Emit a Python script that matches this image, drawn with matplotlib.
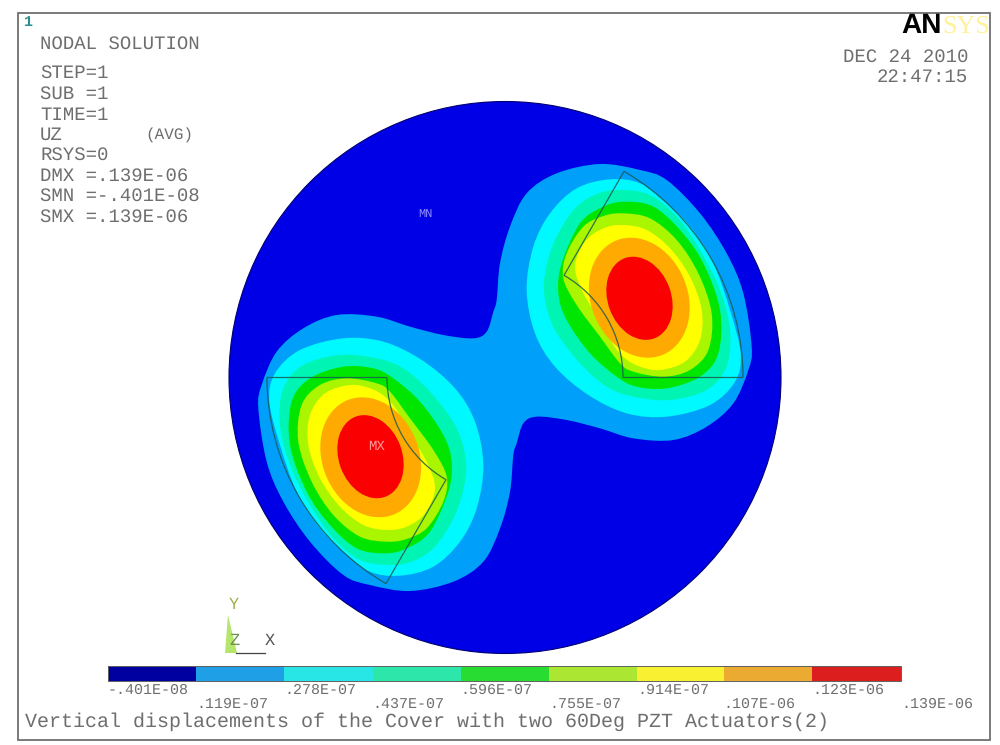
import numpy as np
import matplotlib
matplotlib.use("Agg")
import matplotlib.pyplot as plt
from matplotlib.path import Path
from matplotlib.patches import PathPatch, Circle, Wedge, Rectangle, Polygon, Ellipse
from matplotlib.colors import ListedColormap, BoundaryNorm

plt.rcParams["text.hinting"] = "none"
plt.rcParams["text.hinting_factor"] = 1

# ---- legend data
levels = [-0.401e-8, 0.119e-7, 0.278e-7, 0.437e-7, 0.596e-7, 0.755e-7, 0.914e-7, 0.107e-6, 0.123e-6, 0.139e-6]
level_labels = ["-.401E-08", ".119E-07", ".278E-07", ".437E-07", ".596E-07",
                ".755E-07", ".914E-07", ".107E-06", ".123E-06", ".139E-06"]
field_colors = ["#0000e6", "#00a0fa", "#00f8ff", "#00f5b4", "#00e600",
                "#aaf500", "#ffff00", "#ffaa00", "#fa0000"]
legend_colors = ["#0000a0", "#1e9fe6", "#28e6e6", "#2de6aa", "#28dc32",
                 "#aae632", "#faf032", "#ebaa32", "#dc1e1e"]

# ---- contour outlines of the upper right lobe, read in a 3x crop with origin (500,150).
# The lower left lobe is the same field turned by 180 degrees about the cover centre.
crop_origin = (500, 150)
neck_and_lobe = [(-10,450),(0,340),(30,230),(80,130),(170,70),(300,42),(420,60),(500,90),(600,190),(680,310),
                 (730,430),(755,590),(745,660),(700,760),(620,830),(520,870),(400,865),(300,835),(200,810),
                 (110,800),(70,820),(50,880)]
lobe_cyan = [(330,88),(420,100),(500,160),(570,230),(640,340),(690,480),(722,610),(705,695),(630,765),(500,800),
             (380,790),(265,735),(165,650),(105,550),(80,420),(100,290),(150,190),(230,115)]
lobe_teal = [(365,120),(450,135),(530,200),(600,300),(660,420),(690,540),(680,650),(620,720),(510,750),(400,740),
             (320,710),(240,640),(165,540),(135,450),(135,370),(165,270),(225,175),(295,130)]
lobe_green = [(375,155),(460,170),(540,240),(610,340),(660,480),(655,610),(600,680),(500,715),(410,710),
              (350,680),(270,610),(200,510),(175,430),(185,340),(240,220),(310,170)]
lobe_lime = [(370,190),(450,205),(530,270),(595,370),(635,490),(625,600),(570,660),(490,680),(400,665),
             (360,640),(300,560),(230,465),(190,385),(200,310),(250,230),(310,198)]
lobe_yellow = [(370,225),(440,240),(510,295),(570,380),(605,480),(600,570),(555,635),(480,660),(420,650),
               (375,625),(340,585),(300,510),(250,430),(225,350),(255,275),(310,235)]
lobe_bands = [lobe_cyan, lobe_teal, lobe_green, lobe_lime, lobe_yellow]

# innermost bands are ellipses: centre x, centre y, semi major, semi minor, tilt (image pixels)
orange_ellipse = (639.3, 297.7, 61.7, 48.3, 68)
red_ellipse = (639.5, 298.3, 42.7, 31.7, 70)

# ---- geometry of the cover and the two actuators
cover_center = (505, 377.5)
cover_radius = 276
actuator_radii = (118, 238)
actuator_angles = [(0, 60), (180, 240)]

info_lines = [("NODAL SOLUTION", 44), ("STEP=1", 73), ("SUB =1", 94), ("TIME=1", 115), ("UZ", 135),
              ("RSYS=0", 155), ("DMX =.139E-06", 176), ("SMN =-.401E-08", 196), ("SMX =.139E-06", 217)]
title = "Vertical displacements of the Cover with two 60Deg PZT Actuators(2)"


def smooth_closed(pts):
    """Closed smooth path through the read points (Catmull-Rom as Bezier)."""
    p = np.asarray(pts, float)
    n = len(p)
    verts, codes = [p[0]], [Path.MOVETO]
    for i in range(n):
        p0, p1, p2, p3 = p[i - 1], p[i], p[(i + 1) % n], p[(i + 2) % n]
        verts += [p1 + (p2 - p0) / 6, p2 - (p3 - p1) / 6, p2]
        codes += [Path.CURVE4] * 3
    return Path(verts, codes)


def to_image(pts):
    return np.array([(crop_origin[0] + x / 3, crop_origin[1] + y / 3) for x, y in pts])


def turned(pts):
    return 2 * np.array(cover_center) - np.asarray(pts, float)


fig = plt.figure(figsize=(10, 7.45), dpi=100, facecolor="white")
ax = fig.add_axes([0, 0, 1, 1])
ax.set_xlim(0, 1000)
ax.set_ylim(745, 0)
ax.axis("off")

MONO = "Liberation Mono"
GRAY = "#6e6e6e"

ax.add_patch(Rectangle((18, 13), 972, 727, fill=False, ec="#707070", lw=1.3))

disc = Circle(cover_center, cover_radius, fc=field_colors[0], ec="#000070", lw=0.8)
ax.add_patch(disc)

half = to_image(neck_and_lobe)
db = PathPatch(smooth_closed(np.vstack([half, turned(half)])), fc=field_colors[1], ec="none")
ax.add_patch(db)
db.set_clip_path(disc)

for k, band in enumerate(lobe_bands):
    pts = to_image(band)
    ax.add_patch(PathPatch(smooth_closed(pts), fc=field_colors[k + 2], ec="none"))
    ax.add_patch(PathPatch(smooth_closed(turned(pts)), fc=field_colors[k + 2], ec="none"))

for k, (cx, cy, a, b, tilt) in zip((7, 8), (orange_ellipse, red_ellipse)):
    for c in ((cx, cy), tuple(turned([(cx, cy)])[0])):
        ax.add_patch(Ellipse(c, 2 * a, 2 * b, angle=tilt, fc=field_colors[k], ec="none"))

for a0, a1 in actuator_angles:
    # y axis points down in image space, so the angles are mirrored
    ax.add_patch(Wedge(cover_center, actuator_radii[1], -a1, -a0,
                       width=actuator_radii[1] - actuator_radii[0],
                       fill=False, ec="#1c5a50", lw=0.9, alpha=0.85))

ax.text(425, 214, "MN", family=MONO, fontsize=8.5, color="#8f8fff", ha="center", va="center")
ax.text(377, 446, "MX", family=MONO, fontsize=10, color="#ff9a9a", ha="center", va="center")

# info block
ax.text(28, 22, "1", family=MONO, fontsize=11, weight="bold", color="#2a8f8f", ha="center", va="center")
for s, y in info_lines:
    ax.text(40, y, s, family=MONO, fontsize=13.65, color=GRAY, va="center", ha="left")
ax.text(145, 135, "(AVG)", family=MONO, fontsize=11.3, color=GRAY, va="center", ha="left")

# date and logo
ax.text(968, 57, "DEC 24 2010", family=MONO, fontsize=13.65, color=GRAY, va="center", ha="right")
ax.text(968, 77, "22:47:15", family=MONO, fontsize=13.65, color=GRAY, va="center", ha="right")
ax.text(942, 26, "AN", family="Liberation Sans", weight="bold", fontsize=20, color="black", ha="right", va="center")
ax.text(942, 26, "SYS", family="Liberation Serif", fontsize=18.5, color="#fff29a", ha="left", va="center")

# triad
ax.add_patch(Polygon([(228, 615), (225, 653), (237, 653)], fc="#b5e56a", ec="none"))
ax.plot([236, 265], [653, 653], color="#404040", lw=0.9)
ax.text(234, 605, "Y", family=MONO, fontsize=12, color="#a3ad4e", ha="center", va="center")
ax.text(234, 641, "Z", family=MONO, fontsize=12, color="#6f8f55", ha="center", va="center")
ax.text(270, 641, "X", family=MONO, fontsize=12, color="#555555", ha="center", va="center")

# legend bar, drawn on its own value axis
cax = fig.add_axes([108 / 1000, 1 - 681 / 745, (901 - 108) / 1000, 15 / 745])
cmap = ListedColormap(legend_colors)
norm = BoundaryNorm(levels, cmap.N)
cax.pcolormesh(levels, [0, 1], [np.array(levels[:-1]) + 1e-10], cmap=cmap, norm=norm)
cax.set_xlim(levels[0], levels[-1])
cax.set_ylim(0, 1)
cax.axis("off")
cax.add_patch(Rectangle((levels[0], 0), levels[-1] - levels[0], 1, fill=False, ec="#606060", lw=0.7,
                        transform=cax.transData, clip_on=False))
lab_tf = cax.get_xaxis_transform()
for i, (v, s) in enumerate(zip(levels, level_labels)):
    y = -0.62 if i % 2 == 0 else -1.50
    cax.text(v, y, s, family=MONO, fontsize=10.9, color=GRAY, ha="left", va="center",
             transform=lab_tf, clip_on=False)

ax.text(25, 722, title, family=MONO, fontsize=14.2, color=GRAY, ha="left", va="center")

fig.savefig("out.png", dpi=100)
